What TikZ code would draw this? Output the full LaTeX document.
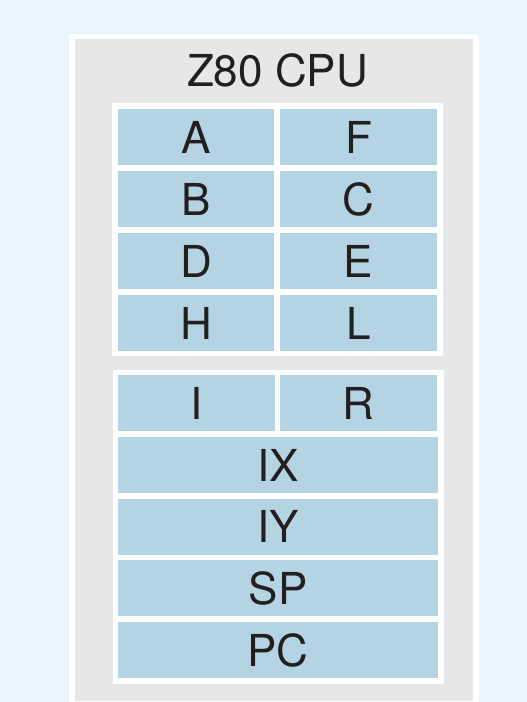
\documentclass[tikz,border=0pt]{standalone}
\usepackage{fontspec}
\setmainfont{TeX Gyre Heros}
\definecolor{bgblue}{HTML}{E8F5FC}
\definecolor{panelgrey}{HTML}{E6E7E8}
\definecolor{cellblue}{HTML}{B4D4E3}
\definecolor{txt}{HTML}{231F20}
\tikzset{
  cell/.style={fill=cellblue, draw=none, inner sep=0pt, anchor=center, text=txt,
    font=\fontsize{44}{44}\selectfont, minimum height=56pt},
  half/.style={cell, minimum width=156.5pt},
  full/.style={cell, minimum width=319.5pt},
}
\begin{document}
\begin{tikzpicture}[x=1pt,y=-1pt]
\useasboundingbox (0,0) rectangle (527,702);
\fill[bgblue] (0,0) rectangle (527,702);
\begin{scope}
\clip (0,0) rectangle (527,702);
\fill[white] (69,34) rectangle (479,710);
\fill[panelgrey] (75,39) rectangle (473,701);
\end{scope}
\node[text=txt, font=\fontsize{44}{44}\selectfont, inner sep=0pt] (title) at (277.5,70) {Z80 CPU};
% group 1
\fill[white] (112,103) rectangle (443,356);
\node[half] (A) at (196,137) {A};
\node[half] (F) at (358.5,137) {F};
\node[half] (B) at (196,199) {B};
\node[half] (C) at (358.5,199) {C};
\node[half] (D) at (196,261) {D};
\node[half] (E) at (358.5,261) {E};
\node[half] (H) at (196,323) {H};
\node[half] (L) at (358.5,323) {L};
% group 2
\fill[white] (113,370) rectangle (444,684);
\node[half] (I) at (196.5,403) {I};
\node[half] (R) at (358.5,403) {R};
\node[full] (IX) at (278,465) {IX};
\node[full] (IY) at (278,526.5) {IY};
\node[full] (SP) at (278,588) {SP};
\node[full] (PC) at (278,650) {PC};
\end{tikzpicture}
\end{document}
